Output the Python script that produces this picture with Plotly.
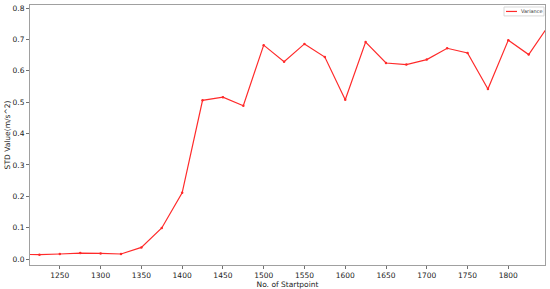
import plotly.graph_objects as go

startpoints = [1200, 1225, 1250, 1275, 1300, 1325, 1350, 1375, 1400, 1425, 1450, 1475,
               1500, 1525, 1550, 1575, 1600, 1625, 1650, 1675, 1700, 1725, 1750, 1775,
               1800, 1825, 1850]
variance = [0.015, 0.014, 0.016, 0.019, 0.018, 0.016, 0.037, 0.099, 0.211, 0.506, 0.516, 0.489,
            0.682, 0.629, 0.686, 0.644, 0.508, 0.692, 0.625, 0.620, 0.636, 0.672, 0.657, 0.542,
            0.698, 0.652, 0.747]
x_ticks = [1250, 1300, 1350, 1400, 1450, 1500, 1550, 1600, 1650, 1700, 1750, 1800]
y_ticks = [0.0, 0.1, 0.2, 0.3, 0.4, 0.5, 0.6, 0.7, 0.8]
series_name = "Variance"
line_color = "#ff2a2a"

fig = go.Figure()
fig.add_trace(go.Scatter(
    x=startpoints, y=variance, mode="lines+markers", name=series_name,
    line=dict(color=line_color, width=1.2),
    marker=dict(color=line_color, size=2.5),
    showlegend=False,
))

axis_common = dict(
    showline=True, linecolor="#a0a0a0", linewidth=1, mirror=True,
    showgrid=False, zeroline=False,
    ticks="outside", ticklen=3, tickcolor="#707070", tickwidth=1,
    tickfont=dict(family="DejaVu Sans", size=7.5, color="#222"),
)

# Manual compact legend (matplotlib-style) in paper coordinates
L, R, T, B = 30, 545, 4, 266
def px(x):
    return (x - L) / (R - L)
def py(y):
    return (B - y) / (B - T)

fig.add_shape(type="rect", xref="paper", yref="paper",
              x0=px(504), x1=px(544), y0=py(15), y1=py(6),
              line=dict(color="#d8d8d8", width=1), fillcolor="white")
fig.add_shape(type="line", xref="paper", yref="paper",
              x0=px(506), x1=px(517), y0=py(10.5), y1=py(10.5),
              line=dict(color=line_color, width=1.2))
fig.add_annotation(xref="paper", yref="paper", x=px(519), y=py(10.5),
                   text=series_name, showarrow=False, xanchor="left", yanchor="middle",
                   font=dict(family="DejaVu Sans", size=5, color="#333"))

fig.update_layout(
    width=550, height=289,
    margin=dict(l=L, r=550 - R, t=T, b=289 - B),
    paper_bgcolor="white", plot_bgcolor="white",
    font=dict(family="DejaVu Sans", size=7.5, color="#222"),
    xaxis=dict(range=[1213.4, 1845], tickvals=x_ticks,
               title=dict(text="No. of Startpoint", standoff=0,
                          font=dict(size=7.5)), **axis_common),
    yaxis=dict(range=[-0.019, 0.81], tickvals=y_ticks,
               tickformat=".1f",
               title=dict(text="STD Value(m/s^2)", standoff=0,
                          font=dict(size=7.5)), **axis_common),
    showlegend=False,
)

fig.write_html("out.html", config={"displayModeBar": False},
               post_script="document.body.style.margin='0';document.body.style.padding='0';")
